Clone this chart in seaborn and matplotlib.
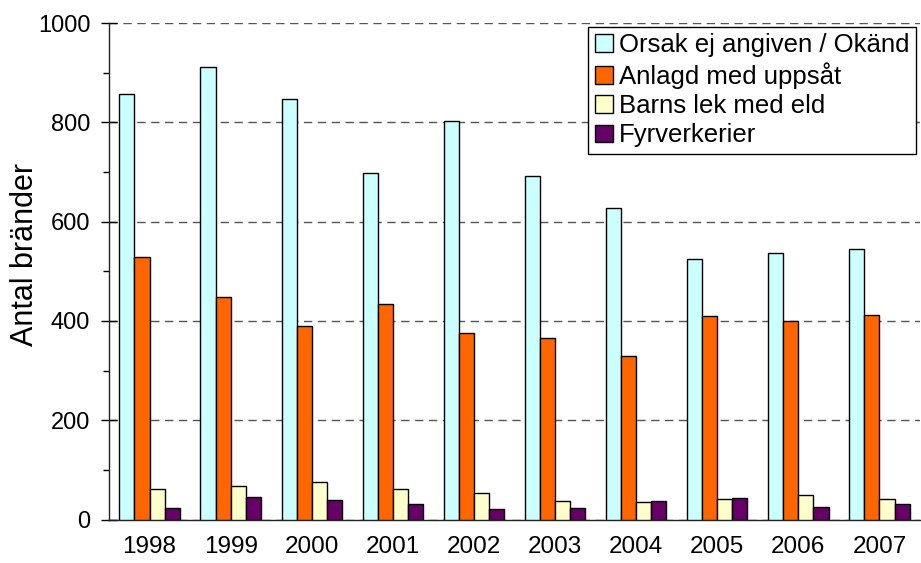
import numpy as np
import pandas as pd
import seaborn as sns
import matplotlib
matplotlib.use("Agg")
import matplotlib.pyplot as plt
from matplotlib.ticker import MultipleLocator

# data
years = ["1998", "1999", "2000", "2001", "2002", "2003", "2004", "2005", "2006", "2007"]
okand = [858, 911, 847, 697, 803, 691, 628, 524, 536, 545]
uppsat = [528, 449, 390, 434, 376, 365, 330, 409, 400, 412]
barns_lek = [62, 67, 75, 62, 53, 38, 35, 42, 50, 42]
fyrverkerier = [24, 45, 39, 31, 21, 23, 37, 43, 25, 32]

series = ["Orsak ej angiven / Okänd", "Anlagd med uppsåt", "Barns lek med eld", "Fyrverkerier"]
colors = ["#CCFFFF", "#FF6600", "#FFFFCC", "#660066"]

df = pd.DataFrame({"year": years * 4,
                   "orsak": np.repeat(series, len(years)),
                   "antal": okand + uppsat + barns_lek + fyrverkerier})

sns.set_style("white")
plt.rcParams["font.family"] = ["Liberation Sans", "DejaVu Sans"]
plt.rcParams["text.color"] = "black"
plt.rcParams["axes.labelcolor"] = "black"
plt.rcParams["xtick.color"] = "black"
plt.rcParams["ytick.color"] = "black"

fig = plt.figure(figsize=(9.21, 5.63), dpi=100)
ax = fig.add_axes([109 / 921, 43.5 / 563, 811 / 921, 496.5 / 563])

sns.barplot(data=df, x="year", y="antal", hue="orsak", hue_order=series,
            palette=colors, width=0.744, gap=0, edgecolor="black", linewidth=1,
            saturation=1, ax=ax, zorder=3)

ax.set_xlim(-0.5, len(years) - 0.5)
ax.set_ylim(0, 1000)
ax.yaxis.set_major_locator(MultipleLocator(200))
ax.yaxis.set_minor_locator(MultipleLocator(100))
ax.set_xticks(np.arange(len(years)))
ax.set_xticklabels(years)
ax.set_xticks(np.arange(-0.5, len(years)), minor=True)

ax.grid(axis="y", which="major", linestyle=(0, (6, 4)), color="#555555", linewidth=1, zorder=0)
ax.set_axisbelow(True)

ax.tick_params(axis="x", which="major", length=0, labelsize=17.5, pad=12, labelcolor="black")
ax.tick_params(axis="x", which="minor", length=6, width=1, direction="out", color="black")
ax.tick_params(axis="y", which="major", direction="inout", length=11, width=1,
               color="black", labelsize=17, left=True, pad=8, labelcolor="black")
ax.tick_params(axis="y", which="minor", direction="out", length=4, width=1,
               color="black", left=True)

for s in ["top", "right"]:
    ax.spines[s].set_visible(False)
for s in ["left", "bottom"]:
    ax.spines[s].set_color("#222222")
    ax.spines[s].set_linewidth(1)

ax.set_xlabel("")
ax.set_ylabel("Antal bränder", fontsize=22, color="black")
ax.yaxis.set_label_coords(-0.085, 0.534)

leg = ax.legend(loc="upper right", bbox_to_anchor=(0.995, 0.992), fontsize=18.5,
                frameon=True, fancybox=False, edgecolor="black", framealpha=1,
                handlelength=0.7, handleheight=0.7, handletextpad=0.25,
                labelspacing=0.2, borderpad=0.25, borderaxespad=0)
leg.get_frame().set_linewidth(1)
for t in leg.get_texts():
    t.set_color("black")

fig.savefig("out.png", dpi=100)
